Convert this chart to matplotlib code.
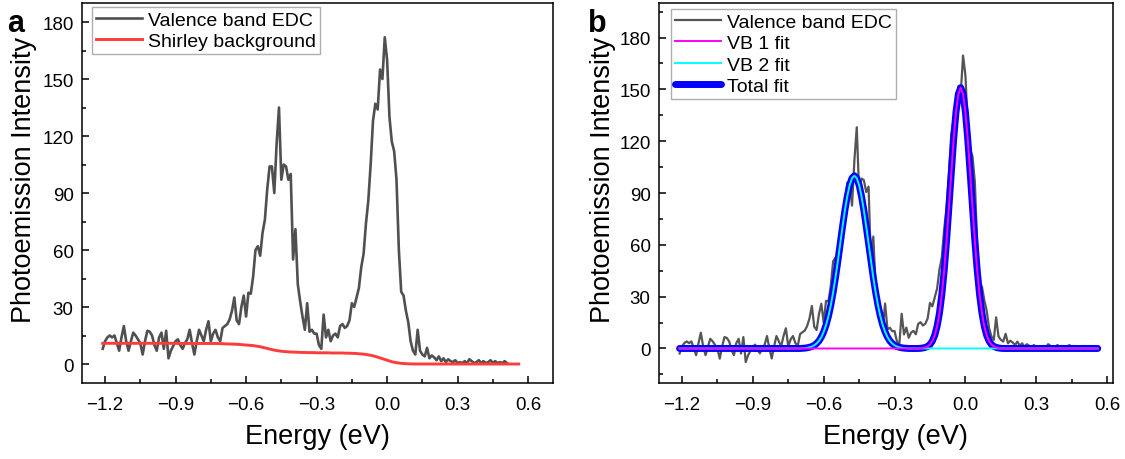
import numpy as np
import matplotlib
matplotlib.use('Agg')
import matplotlib.pyplot as plt
from matplotlib.ticker import MultipleLocator

# ---------------- data ----------------
# uniform energy grid of the fit / background curves (eV)
energy = np.round(np.arange(-1.21, 0.565, 0.01), 2)

# raw valence-band EDC, energy -1.21 ... 0.51 eV
edc_raw = [
    8, 12, 14, 15, 14, 15, 11, 7, 14, 20,
    12, 7, 12, 16.5, 15, 13, 11, 5, 12, 17.5,
    17, 15, 10, 7, 14, 16.5, 8, 17.5, 3, 7,
    9.5, 12, 13, 10, 8, 11, 13, 18, 11, 5,
    12, 18, 15, 12, 18, 22.5, 12, 16, 18, 14,
    12, 19, 20, 21, 23.5, 28, 35, 23, 21, 30,
    36, 25, 37.5, 37, 46, 60, 62, 57, 69, 76,
    92, 104, 104, 90, 116, 135, 97, 105, 104, 97,
    100, 55, 71, 42, 33, 25, 18, 32, 17, 18,
    16, 16, 10, 8, 26, 14, 18, 12, 15, 16,
    14, 20, 21, 19, 20, 23, 32, 30, 35, 40,
    51, 58, 74, 86, 105, 128, 137, 134, 155, 150,
    172, 160, 130, 117, 112, 97, 60, 38, 36, 28,
    22, 12, 7, 5, 18, 7, 5, 4, 8.5, 3,
    4.5, 3.5, 2, 4, 1.5, 3, 1, 2.5, 1.5, 1,
    2, 0.5, 1, 0.5, 1.5, 0.5, 2.5, 1.5, 0.5, 1,
    2, 0.5, 1.5, 0.5, 1, 2, 0.5, 1.5, 0.5, 1,
    0.5, 1.5, 0.5,
]

# Shirley background, energy -1.21 ... 0.56 eV
shirley = [
    10.9, 10.9, 10.9, 10.9, 10.9, 10.9, 10.9, 10.9, 10.9, 10.9,
    10.9, 10.9, 10.9, 10.9, 10.9, 10.9, 10.9, 10.9, 10.9, 10.9,
    10.9, 10.9, 10.9, 10.9, 10.9, 10.9, 10.9, 10.9, 10.9, 10.9,
    10.9, 10.9, 10.8, 10.8, 10.8, 10.8, 10.8, 10.8, 10.8, 10.8,
    10.8, 10.8, 10.8, 10.8, 10.8, 10.8, 10.8, 10.8, 10.8, 10.8,
    10.7, 10.7, 10.6, 10.6, 10.5, 10.5, 10.4, 10.4, 10.3, 10.2,
    10.1, 10.0, 9.9, 9.8, 9.7, 9.5, 9.3, 9.1, 8.8, 8.5,
    8.2, 7.9, 7.6, 7.3, 7.1, 6.9, 6.7, 6.6, 6.5, 6.4,
    6.3, 6.3, 6.2, 6.2, 6.1, 6.1, 6.1, 6.0, 6.0, 6.0,
    6.0, 5.9, 5.9, 5.9, 5.9, 5.9, 5.9, 5.8, 5.8, 5.8,
    5.8, 5.8, 5.8, 5.7, 5.7, 5.7, 5.6, 5.6, 5.5, 5.4,
    5.3, 5.2, 5.0, 4.8, 4.6, 4.3, 4.0, 3.6, 3.2, 2.8,
    2.4, 2.0, 1.6, 1.2, 0.9, 0.7, 0.5, 0.35, 0.25, 0.15,
    0.1, 0.05, 0, 0, 0, 0, 0, 0, 0, 0,
    0, 0, 0, 0, 0, 0, 0, 0, 0, 0,
    0, 0, 0, 0, 0, 0, 0, 0, 0, 0,
    0, 0, 0, 0, 0, 0, 0, 0, 0, 0,
    0, 0, 0, 0, 0, 0, 0, 0,
]

# VB 1 fit, energy -1.21 ... 0.56 eV
vb1_fit = [
    0, 0, 0, 0, 0, 0, 0, 0, 0, 0, 0, 0, 0, 0, 0, 0, 0, 0, 0, 0,
    0, 0, 0, 0, 0, 0, 0, 0, 0, 0, 0, 0, 0, 0, 0, 0, 0, 0, 0, 0,
    0, 0, 0, 0, 0, 0, 0, 0, 0, 0, 0, 0, 0, 0, 0, 0, 0, 0, 0, 0,
    0, 0, 0, 0, 0, 0, 0, 0, 0, 0, 0, 0, 0, 0, 0, 0, 0, 0, 0, 0,
    0, 0, 0, 0, 0, 0, 0, 0, 0, 0, 0, 0, 0, 0, 0, 0, 0, 0, 0, 0,
    0, 0,
    0.1, 0.3, 0.6, 1.2, 2.3, 4.3, 7.6, 12.8, 20.4, 31.1,
    45.0, 62.1, 81.5, 101.7, 120.9, 136.8, 147.3, 151.0, 147.3, 136.8,
    120.9, 101.7, 81.5, 62.1, 45.0, 31.1, 20.4, 12.8, 7.6, 4.3,
    2.3, 1.2, 0.6, 0.3, 0.1,
    0, 0, 0, 0, 0, 0, 0, 0, 0, 0, 0, 0, 0, 0, 0, 0, 0, 0, 0, 0,
    0, 0, 0, 0, 0, 0, 0, 0, 0, 0, 0, 0, 0, 0, 0, 0, 0, 0, 0, 0,
    0,
]

# VB 2 fit, energy -1.21 ... 0.56 eV
vb2_fit = [
    0, 0, 0, 0, 0, 0, 0, 0, 0, 0, 0, 0, 0, 0, 0, 0, 0, 0, 0, 0,
    0, 0, 0, 0, 0, 0, 0, 0, 0, 0, 0, 0, 0, 0, 0, 0, 0, 0, 0, 0,
    0, 0, 0, 0, 0, 0, 0, 0, 0, 0, 0, 0,
    0.1, 0.2, 0.4, 0.7, 1.1, 1.8, 2.9, 4.4, 6.6, 9.6,
    13.5, 18.6, 24.9, 32.5, 41.1, 50.6, 60.7, 70.7, 80.1, 88.2,
    94.6, 98.6, 100.0, 98.6, 94.6, 88.2, 80.1, 70.7, 60.7, 50.6,
    41.1, 32.5, 24.9, 18.6, 13.5, 9.6, 6.6, 4.4, 2.9, 1.8,
    1.1, 0.7, 0.4, 0.2, 0.1,
    0, 0, 0, 0, 0, 0, 0, 0, 0, 0, 0, 0, 0, 0, 0, 0, 0, 0, 0, 0,
    0, 0, 0, 0, 0, 0, 0, 0, 0, 0, 0, 0, 0, 0, 0, 0, 0, 0, 0, 0,
    0, 0, 0, 0, 0, 0, 0, 0, 0, 0, 0, 0, 0, 0, 0, 0, 0, 0, 0, 0,
    0, 0, 0, 0, 0, 0, 0, 0, 0, 0, 0, 0, 0, 0, 0, 0, 0, 0, 0, 0,
    0,
]

x_ticks = [-1.2, -0.9, -0.6, -0.3, 0.0, 0.3, 0.6]
y_ticks = [0, 30, 60, 90, 120, 150, 180]

edc_raw = np.array(edc_raw, dtype=float)
shirley = np.array(shirley, dtype=float)
vb1_fit = np.array(vb1_fit, dtype=float)
vb2_fit = np.array(vb2_fit, dtype=float)
total_fit = vb1_fit + vb2_fit
n_edc = len(edc_raw)
edc_energy = energy[:n_edc]
edc_sub = edc_raw - shirley[:n_edc]

# ---------------- figure ----------------
plt.rcParams['font.family'] = ['Liberation Sans', 'DejaVu Sans']
plt.rcParams['axes.unicode_minus'] = True

fig = plt.figure(figsize=(11.25, 4.6), dpi=100)
axa = fig.add_axes([0.0729, 0.1652, 0.4187, 0.826])
axb = fig.add_axes([0.5858, 0.1652, 0.4036, 0.826])


def style(ax):
    for s in ax.spines.values():
        s.set_linewidth(1.1)
        s.set_color('black')
    ax.set_xticks(x_ticks)
    ax.set_yticks(y_ticks)
    ax.xaxis.set_minor_locator(MultipleLocator(0.15))
    ax.yaxis.set_minor_locator(MultipleLocator(15))
    ax.tick_params(which='both', direction='in', top=False, right=False,
                   width=1.1, colors='black')
    ax.tick_params(which='major', length=5, labelsize=13.5)
    ax.tick_params(which='minor', length=2.6)
    ax.tick_params(axis='x', which='major', pad=9)
    ax.tick_params(axis='y', which='major', pad=6)
    ax.set_xticklabels(['\u22121.2', '\u22120.9', '\u22120.6', '\u22120.3',
                        '0.0', '0.3', '0.6'])
    ax.set_xlabel('Energy (eV)', fontsize=19.5)
    ax.set_ylabel('Photoemission Intensity', fontsize=19.5)


# panel a
axa.plot(edc_energy, edc_raw, color='#505050', lw=1.9, label='Valence band EDC')
axa.plot(energy, shirley, color='#ff3b3b', lw=2.1, label='Shirley background')
axa.set_xlim(-1.298, 0.706)
axa.set_ylim(-10, 190)
style(axa)
axa.xaxis.set_label_coords(0.5, -0.105)
axa.yaxis.set_label_coords(-0.095, 0.537)
leg = axa.legend(loc='upper left', bbox_to_anchor=(0.021, 0.989), fontsize=14,
                 frameon=True, fancybox=False, edgecolor='#9a9a9a',
                 borderpad=0.2, labelspacing=0.2, handlelength=2.4,
                 handletextpad=0.3, borderaxespad=0)
leg.get_frame().set_linewidth(1.0)

# panel b
axb.plot(edc_energy, edc_sub, color='#555555', lw=1.6, label='Valence band EDC', zorder=1)
axb.plot(energy, total_fit, color='#0000ff', lw=5.0, solid_capstyle='round',
         solid_joinstyle='round', label='Total fit', zorder=2)
axb.plot(energy, vb2_fit, color='#00ffff', lw=1.4, label='VB 2 fit', zorder=3)
axb.plot(energy, vb1_fit, color='#ff00ff', lw=1.4, label='VB 1 fit', zorder=4)
axb.set_xlim(-1.297, 0.625)
axb.set_ylim(-20, 200)
style(axb)
axb.xaxis.set_label_coords(0.52, -0.105)
axb.yaxis.set_label_coords(-0.095, 0.537)
h, l = axb.get_legend_handles_labels()
order = [0, 3, 2, 1]
legb = axb.legend([h[i] for i in order], [l[i] for i in order], loc='upper left',
                  bbox_to_anchor=(0.026, 0.984), fontsize=14, frameon=True,
                  fancybox=False, edgecolor='#9a9a9a', borderpad=0.2,
                  labelspacing=0.2, handlelength=2.4, handletextpad=0.3,
                  borderaxespad=0)
legb.get_frame().set_linewidth(1.0)

fig.text(7 / 1125, 1 - 32 / 460, 'a', fontsize=22, fontweight='bold', va='baseline')
fig.text(588 / 1125, 1 - 32 / 460, 'b', fontsize=22, fontweight='bold', va='baseline')

fig.savefig('out.png', dpi=100)
